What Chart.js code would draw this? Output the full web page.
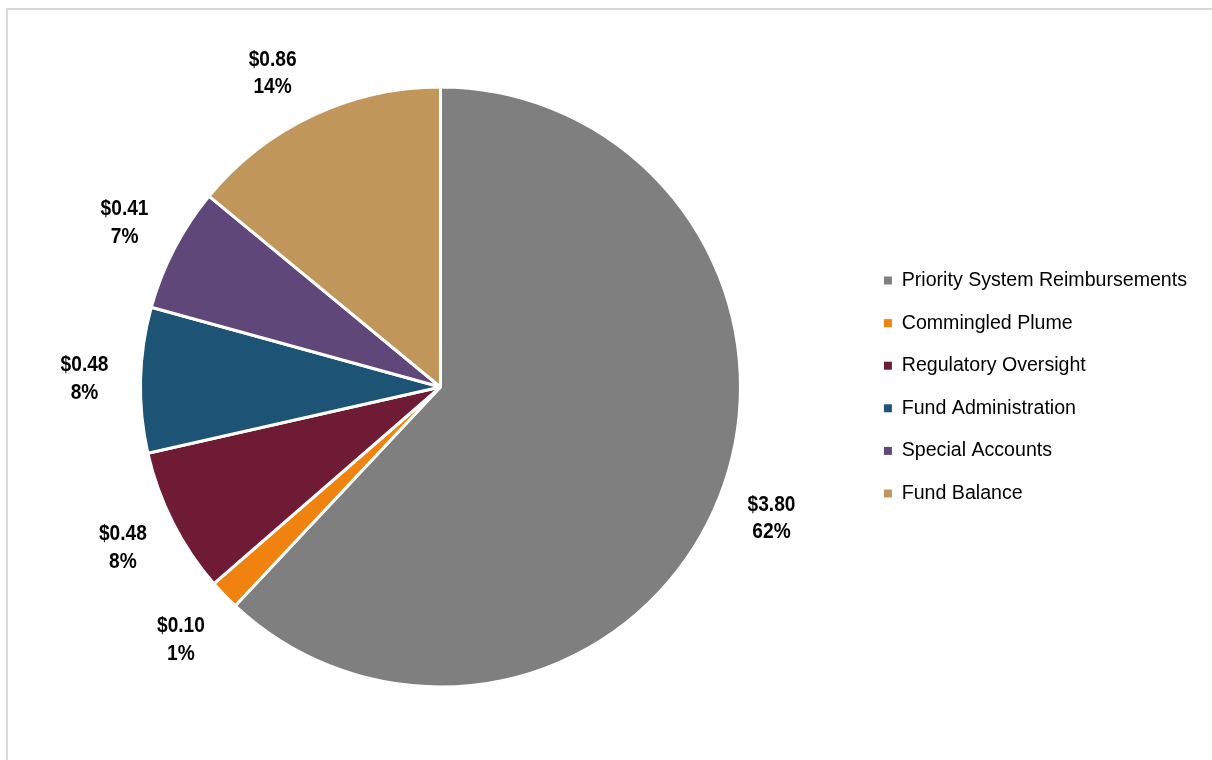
<!DOCTYPE html>
<html lang="en">
<head>
  <meta charset="UTF-8">
  <title>Fund Uses</title>
  <script src="https://cdn.jsdelivr.net/npm/chart.js"></script>
  <style>
    html, body { margin: 0; padding: 0; background: #fff; overflow: hidden; }
    #wrap { position: relative; width: 1212px; height: 760px; }
    #frame {
      position: absolute; left: 6px; top: 8px; right: -10px; bottom: -10px;
      border-top: 2px solid #d9d9d9; border-left: 2px solid #d9d9d9;
    }
    canvas { position: absolute; left: 0; top: 0; }
  </style>
</head>
<body>
  <div id="wrap">
    <div id="frame"></div>
    <canvas id="pieChart" width="1212" height="760"></canvas>
  </div>

  <script>
    // Categories and amounts (millions of dollars)
    const categories = [
      'Priority System Reimbursements',
      'Commingled Plume',
      'Regulatory Oversight',
      'Fund Administration',
      'Special Accounts',
      'Fund Balance'
    ];
    const amounts = [3.80, 0.10, 0.48, 0.48, 0.41, 0.86];
    const percentLabels = ['62%', '1%', '8%', '8%', '7%', '14%'];
    const colors = ['#7f7f7f', '#f0820f', '#701b36', '#1d5475', '#604779', '#c0965a'];

    // Label look: condensed bold, drawn a little squeezed horizontally
    const labelFont = "bold 22px 'Liberation Sans', Arial, sans-serif";
    const labelSqueeze = 0.87;
    const labelGap = 56;
    // small hand nudges so neighbouring labels don't crowd each other
    const labelNudge = { 1: [-3, 6], 5: [-16, 8] };

    // Two-line "$x.xx / nn%" labels placed outside each slice
    const outsideLabels = {
      id: 'outsideLabels',
      afterDatasetsDraw(chart) {
        const ctx = chart.ctx;
        const arcs = chart.getDatasetMeta(0).data;
        ctx.save();
        ctx.font = labelFont;
        ctx.fillStyle = '#000';
        ctx.textAlign = 'center';
        ctx.textBaseline = 'middle';
        arcs.forEach((arc, i) => {
          const p = arc.getProps(['x', 'y', 'startAngle', 'endAngle', 'outerRadius'], true);
          const mid = (p.startAngle + p.endAngle) / 2;
          const r = p.outerRadius + labelGap;
          const nudge = labelNudge[i] || [0, 0];
          const cx = p.x + Math.cos(mid) * r + nudge[0];
          const cy = p.y + Math.sin(mid) * r + nudge[1];
          ctx.save();
          ctx.translate(cx, cy);
          ctx.scale(labelSqueeze, 1);
          ctx.fillText('$' + amounts[i].toFixed(2), 0, -13.5);
          ctx.fillText(percentLabels[i], 0, 14);
          ctx.restore();
        });
        ctx.restore();
      }
    };

    new Chart(document.getElementById('pieChart').getContext('2d'), {
      type: 'pie',
      data: {
        labels: categories,
        datasets: [{
          data: amounts,
          backgroundColor: colors,
          borderColor: '#ffffff',
          borderWidth: 3
        }]
      },
      options: {
        responsive: false,
        animation: false,
        radius: 300,
        layout: { padding: { left: 20, right: 15, top: 14, bottom: 0 } },
        plugins: {
          tooltip: { enabled: false },
          legend: {
            position: 'right',
            align: 'center',
            labels: {
              boxWidth: 8,
              boxHeight: 8,
              padding: 23,
              color: '#000',
              font: { family: "'Liberation Sans', Arial, sans-serif", size: 19.6 },
              generateLabels(chart) {
                // plain filled squares, without the white slice border
                return Chart.overrides.pie.plugins.legend.labels.generateLabels(chart)
                  .map(item => Object.assign(item, { lineWidth: 0, strokeStyle: item.fillStyle }));
              }
            }
          }
        }
      },
      plugins: [outsideLabels]
    });
  </script>
</body>
</html>
